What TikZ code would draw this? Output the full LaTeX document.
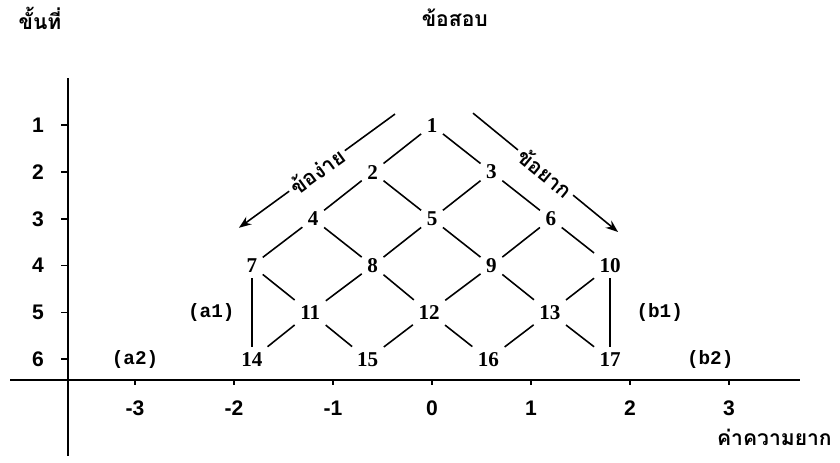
\documentclass[tikz,border=0pt]{standalone}
\usepackage{fontspec}
\setmainfont{Liberation Serif}
\setsansfont{Liberation Sans}
\setmonofont{Liberation Mono}
\newfontfamily\thaifont[Script=Thai]{Loma}
\usetikzlibrary{arrows.meta}

\begin{document}
\begin{tikzpicture}[x=1.98cm, y=-0.936cm, line join=round,
    item/.style={font=\fontsize{12}{14}\selectfont\bfseries, inner sep=3pt},
    tag/.style={font=\fontsize{11}{13}\selectfont\ttfamily\bfseries},
    axnum/.style={font=\fontsize{12}{14}\selectfont\sffamily\bfseries},
    thai/.style={font=\fontsize{12}{15}\selectfont\thaifont\bfseries},
    link/.style={line width=0.9pt},
    axis/.style={line width=1.4pt}]

    \useasboundingbox (-4.364,-1.677) rectangle (4.121,8.21);

    % Axes: steps downwards, difficulty to the right
    \coordinate (ytop) at (-3.677, 0);
    \coordinate (ybot) at (-3.677, 8.07);
    \coordinate (xleft) at (-4.26, 6.44);
    \coordinate (xright) at (3.72, 6.44);
    \draw[axis] (ytop) -- (ybot);
    \draw[axis] (xleft) -- (xright);

    % Tick marks
    \draw[link] (-3.677,1) -- ++(-0.07,0) (-3.677,2) -- ++(-0.07,0)
                (-3.677,3) -- ++(-0.07,0) (-3.677,4) -- ++(-0.07,0)
                (-3.677,5) -- ++(-0.07,0) (-3.677,6) -- ++(-0.07,0);
    \draw[link] (-3,6.44) -- ++(0,0.12) (-2,6.44) -- ++(0,0.12)
                (-1,6.44) -- ++(0,0.12) (0,6.44) -- ++(0,0.12)
                (1,6.44) -- ++(0,0.12) (2,6.44) -- ++(0,0.12)
                (3,6.44) -- ++(0,0.12);

    % Tick labels
    \node[axnum] (y1) at (-3.98,1) {1};
    \node[axnum] (y2) at (-3.98,2) {2};
    \node[axnum] (y3) at (-3.98,3) {3};
    \node[axnum] (y4) at (-3.98,4) {4};
    \node[axnum] (y5) at (-3.98,5) {5};
    \node[axnum] (y6) at (-3.98,6) {6};
    \node[axnum] (xm3) at (-3,7.04) {-3};
    \node[axnum] (xm2) at (-2,7.04) {-2};
    \node[axnum] (xm1) at (-1,7.04) {-1};
    \node[axnum] (x0) at (0,7.04) {0};
    \node[axnum] (x1) at (1,7.04) {1};
    \node[axnum] (x2) at (2,7.04) {2};
    \node[axnum] (x3) at (3,7.04) {3};

    % Titles
    \node[thai] (steptitle) at (-3.96,-1.29) {ขั้นที่};
    \node[thai] (itemtitle) at (0.23,-1.29) {ข้อสอบ};
    \node[thai, anchor=east] (difftitle) at (4.10,7.66) {ค่าความยาก};

    % Items, one row per step
    \node[item] (n1) at (0,1) {1};
    \node[item] (n2) at (-0.6,2) {2};
    \node[item] (n3) at (0.6,2) {3};
    \node[item] (n4) at (-1.2,3) {4};
    \node[item] (n5) at (0,3) {5};
    \node[item] (n6) at (1.2,3) {6};
    \node[item] (n7) at (-1.82,4) {7};
    \node[item] (n8) at (-0.6,4) {8};
    \node[item] (n9) at (0.6,4) {9};
    \node[item] (n10) at (1.8,4) {10};
    \node[item] (n11) at (-1.23,5) {11};
    \node[item] (n12) at (-0.03,5) {12};
    \node[item] (n13) at (1.19,5) {13};
    \node[item] (n14) at (-1.82,6) {14};
    \node[item] (n15) at (-0.65,6) {15};
    \node[item] (n16) at (0.57,6) {16};
    \node[item] (n17) at (1.8,6) {17};

    % Branches
    \draw[link] (n1) -- (n2) (n1) -- (n3)
                (n2) -- (n4) (n2) -- (n5) (n3) -- (n5) (n3) -- (n6)
                (n4) -- (n7) (n4) -- (n8) (n5) -- (n8) (n5) -- (n9)
                (n6) -- (n9) (n6) -- (n10)
                (n7) -- (n11) (n8) -- (n11) (n8) -- (n12) (n9) -- (n12)
                (n9) -- (n13) (n10) -- (n13)
                (n11) -- (n14) (n11) -- (n15) (n12) -- (n15) (n12) -- (n16)
                (n13) -- (n16) (n13) -- (n17);
    \draw[link] (n7) -- (n14);
    \draw[link] (n10) -- (n17);

    % End labels
    \node[tag] (a1) at (-2.23,5) {(a1)};
    \node[tag] (b1) at (2.30,5) {(b1)};
    \node[tag] (a2) at (-3.0,6) {(a2)};
    \node[tag] (b2) at (2.81,6) {(b2)};

    % Easy and hard directions
    \coordinate (easy0) at (-0.374,0.76);
    \coordinate (easy1) at (-1.95,3.19);
    \coordinate (hard0) at (0.414,0.74);
    \coordinate (hard1) at (1.879,3.28);
    \draw[link, -{Stealth[length=7pt]}] (easy0) -- node[sloped, fill=white, inner sep=2pt, thai] {ข้อง่าย} (easy1);
    \draw[link, -{Stealth[length=7pt]}] (hard0) -- node[sloped, fill=white, inner sep=2pt, thai] {ข้อยาก} (hard1);

\end{tikzpicture}
\end{document}
